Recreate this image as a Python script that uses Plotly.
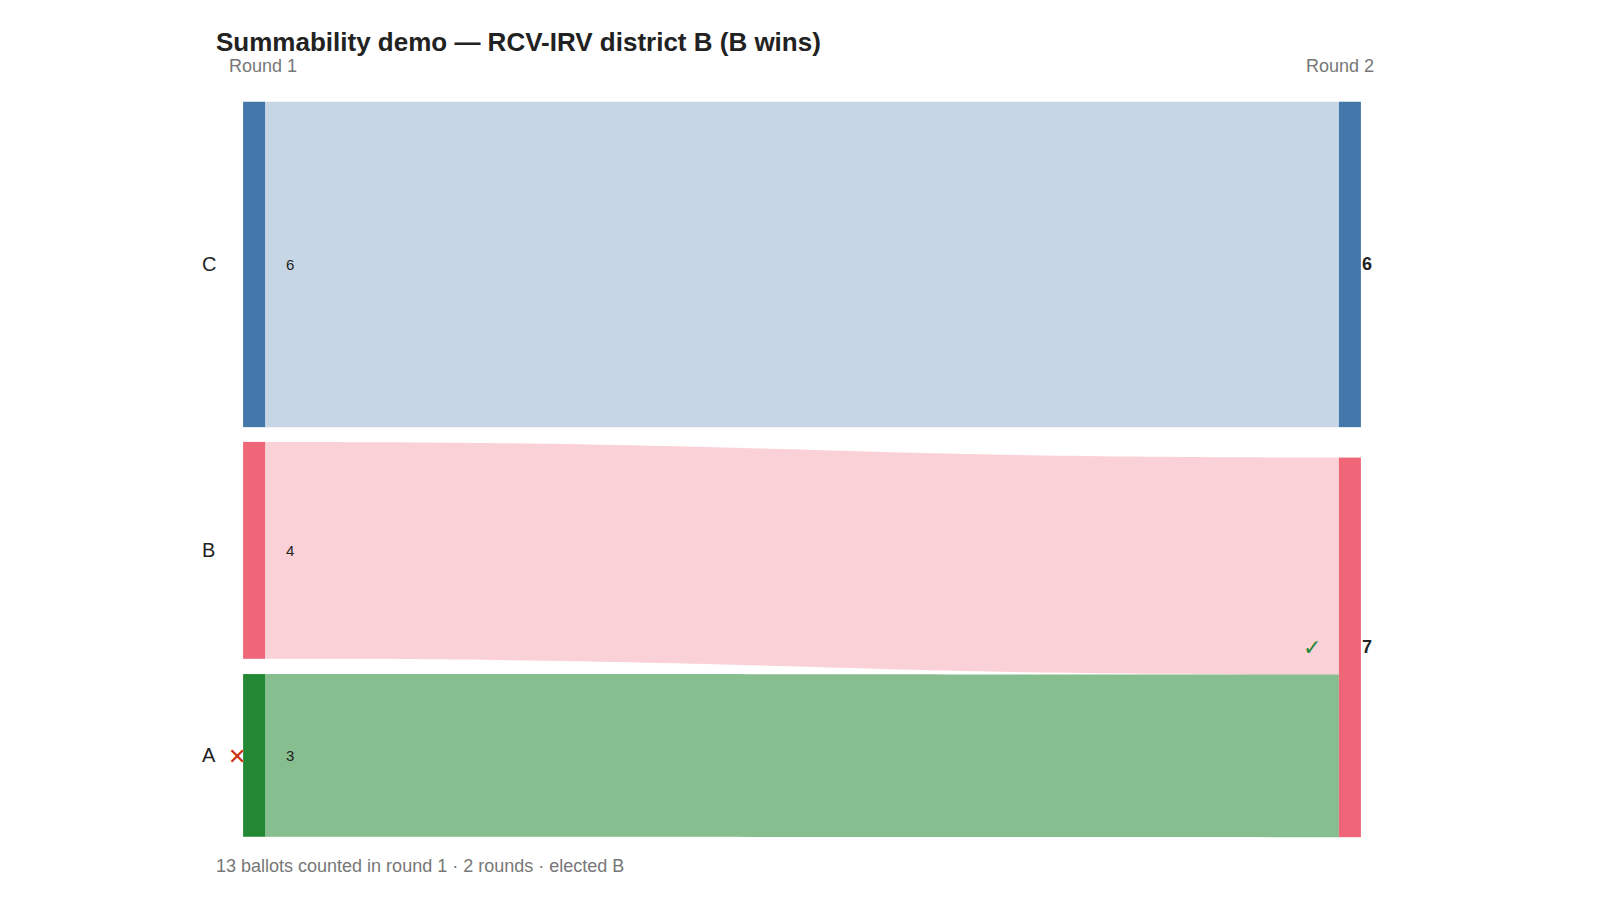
import plotly.graph_objects as go

node_names = ["C", "B", "A", "C", "B"]
node_colors = ["#4477AA", "#EE6677", "#228833", "#4477AA", "#EE6677"]
link_src = [0, 1, 2]
link_tgt = [3, 4, 4]
link_val = [6, 4, 3]
link_colors = ["rgba(68,119,170,0.3)", "rgba(238,102,119,0.3)", "rgba(34,136,51,0.55)"]
round_labels = ["Round 1", "Round 2"]
final_totals = [6, 7]

W, H = 1600, 900
x0, x1, y0, y1 = 245, 1343, 94, 829
def px(x): return x / W
def py(y): return 1 - y / H

fig = go.Figure(go.Sankey(
    arrangement="fixed",
    domain=dict(x=[px(x0), px(x1)], y=[py(y1), py(y0)]),
    node=dict(label=["", "", "", "", ""], color=node_colors, thickness=22, pad=15,
              line=dict(width=0),
              x=[0.001, 0.001, 0.001, 0.999, 0.999],
              y=[0.221, 0.610, 0.889, 0.221, 0.742], hoverinfo="skip"),
    link=dict(source=link_src, target=link_tgt, value=link_val, color=link_colors,
              hoverinfo="skip"),
))

F = "Liberation Sans, Arial, sans-serif"
ann = []
def add(x, y, t, size=18, color="#222", xa="center", bold=False):
    ann.append(dict(x=px(x), y=py(y), xref="paper", yref="paper", text=f"<b>{t}</b>" if bold else t,
                    showarrow=False, xanchor=xa, yanchor="middle",
                    font=dict(family=F, size=size, color=color)))

add(206, 34, "Summability demo — RCV-IRV district B (B wins)", 26, "#222", "left", True)
add(255, 58, round_labels[0], 18, "#777")
add(1332, 58, round_labels[1], 18, "#777")
left_y = [256, 542, 747]
for name, y, v in zip(node_names[:3], left_y, link_val):
    add(201, y, name, 20, "#222")
    add(276, y, str(v), 15, "#222", "left")
add(1352, 256, str(final_totals[0]), 18, "#222", "left", True)
add(1352, 639, str(final_totals[1]), 18, "#222", "left", True)
add(229, 748, "✕", 22, "#CC3311")
add(1304, 639, "✓", 22, "#228833")
add(206, 858, "13 ballots counted in round 1 · 2 rounds · elected B", 18, "#777", "left")

fig.update_layout(width=W, height=H, margin=dict(l=0, r=0, t=0, b=0),
                  paper_bgcolor="white", plot_bgcolor="white", annotations=ann,
                  font=dict(family=F))
fig.write_html("out.html")
